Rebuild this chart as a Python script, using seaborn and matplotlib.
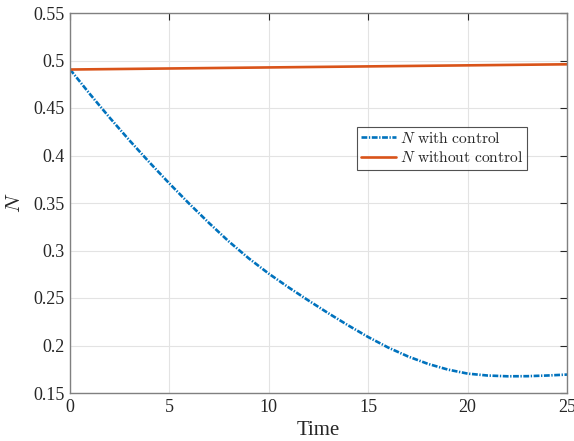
import matplotlib
matplotlib.use("Agg")
import matplotlib.pyplot as plt
import seaborn as sns
import pandas as pd

time_ctrl = list(range(26))
n_with_control = [0.4907, 0.4647, 0.4397, 0.4157, 0.3927, 0.3705, 0.3492, 0.3288, 0.3093,
                  0.2916, 0.2756, 0.2611, 0.2473, 0.2339, 0.2211, 0.2089, 0.1979, 0.1885,
                  0.1807, 0.1747, 0.1704, 0.1684, 0.1676, 0.1677, 0.1684, 0.1694]
time_free = [0, 5, 10, 15, 20, 25]
n_without_control = [0.4905, 0.4916, 0.4927, 0.4938, 0.4949, 0.4960]
x_ticks = [0, 5, 10, 15, 20, 25]
y_ticks = [0.15, 0.2, 0.25, 0.3, 0.35, 0.4, 0.45, 0.5, 0.55]
y_tick_labels = ["0.15", "0.2", "0.25", "0.3", "0.35", "0.4", "0.45", "0.5", "0.55"]

sns.set_style("white")
plt.rcParams["font.family"] = ["Liberation Serif", "DejaVu Serif"]
plt.rcParams["mathtext.fontset"] = "cm"

df1 = pd.DataFrame({"t": time_ctrl, "N": n_with_control})
df2 = pd.DataFrame({"t": time_free, "N": n_without_control})

fig = plt.figure(figsize=(5.74, 4.41), dpi=100)
ax = fig.add_axes([70/574, 1 - 393/441, 497/574, 380/441])

sns.lineplot(data=df1, x="t", y="N", ax=ax, color="#0072BD", linewidth=1.9,
             linestyle=(0, (2.2, 0.6, 0.5, 0.6)), label=r"$N\ \mathrm{with\ control}$")
sns.lineplot(data=df2, x="t", y="N", ax=ax, color="#D95319", linewidth=1.9,
             linestyle="-", label=r"$N\ \mathrm{without\ control}$")

ax.set_xlim(0, 25)
ax.set_ylim(0.15, 0.55)
ax.set_xticks(x_ticks)
ax.set_xticklabels([str(v) for v in x_ticks])
ax.set_yticks(y_ticks)
ax.set_yticklabels(y_tick_labels)
ax.grid(True, color="#e3e3e3", linewidth=0.8)
ax.tick_params(direction="in", length=5, width=0.8, colors="#262626",
               labelsize=13, top=True, right=True, labelcolor="#262626", pad=4)
for s in ax.spines.values():
    s.set_color("#808080")
    s.set_linewidth(1.0)
ax.set_xlabel("Time", fontsize=15, color="#262626", labelpad=4)
ax.set_ylabel(r"$N$", fontsize=15, color="#262626", labelpad=6)

leg = ax.legend(loc="upper left", bbox_to_anchor=(0.577, 0.70), fontsize=11.2,
                frameon=True, fancybox=False, edgecolor="#262626",
                handlelength=2.3, handletextpad=0.2, borderpad=0.25, labelspacing=0.2,
                borderaxespad=0)
leg.get_frame().set_linewidth(0.8)

fig.savefig("out.png", dpi=100)
